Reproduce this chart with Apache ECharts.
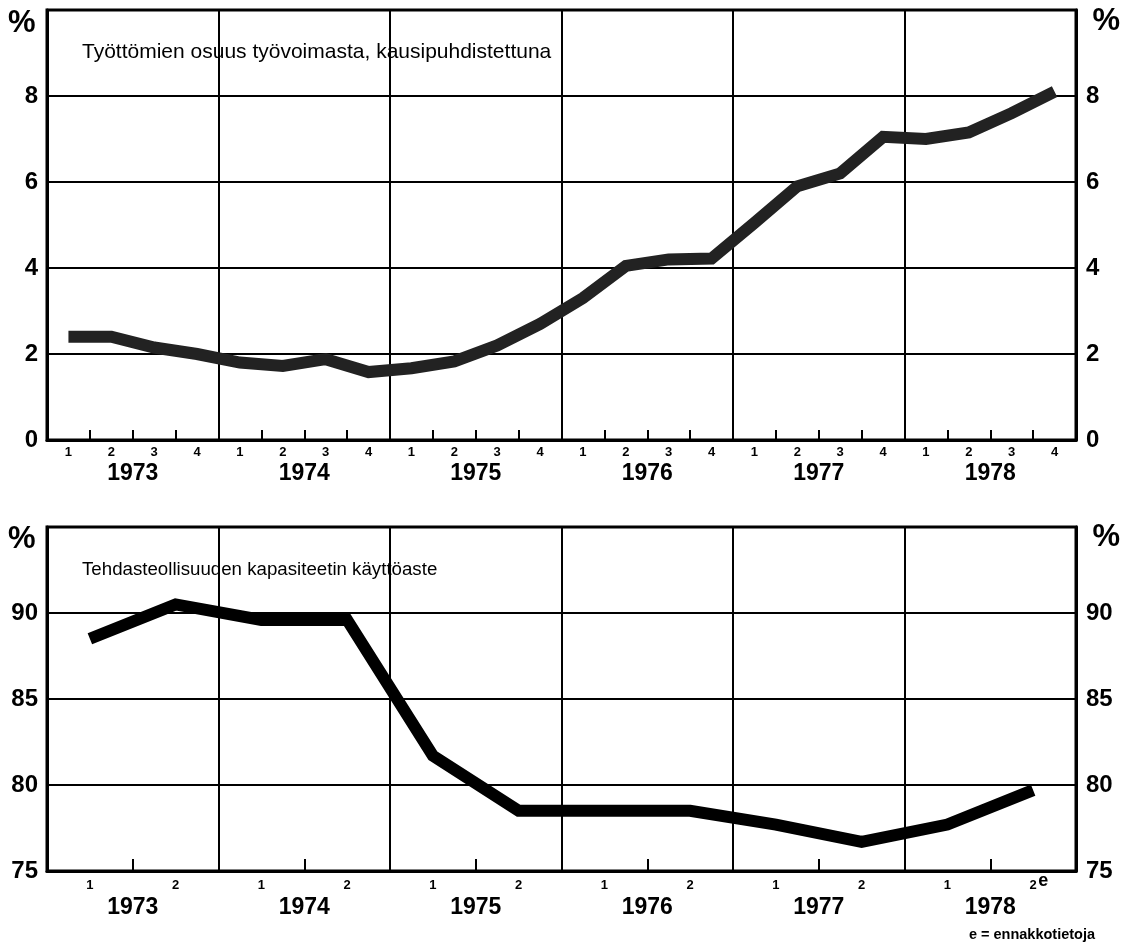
<!DOCTYPE html>
<html>
<head>
<meta charset="utf-8">
<script src="https://cdn.jsdelivr.net/npm/echarts@6/dist/echarts.min.js"></script>
<style>
  html, body { margin: 0; padding: 0; background: #fff; }
  #chart { width: 1123px; height: 948px; }
</style>
</head>
<body>
<div id="chart"></div>
<script>
// data
const years = ['1973', '1974', '1975', '1976', '1977', '1978']
const quarters = ['1', '2', '3', '4']
const halves = ['1', '2']
// unemployment rate, seasonally adjusted, quarterly 1973Q1..1978Q4
const unemployment = [
  2.4, 2.4, 2.15, 2.0,
  1.8, 1.72, 1.88, 1.58,
  1.67, 1.83, 2.2, 2.7,
  3.3, 4.05, 4.2, 4.22,
  5.05, 5.9, 6.2, 7.05,
  7.0, 7.15, 7.6, 8.1
]
// capacity utilisation, half-yearly 1973H1..1978H2
const utilisation = [
  88.5, 90.5,
  89.6, 89.6,
  81.7, 78.5,
  78.5, 78.5,
  77.7, 76.7,
  77.7, 79.7
]
const topTicks = [0, 10, 2]
const bottomTicks = [75, 95, 5]

const qLabels = years.flatMap(() => quarters)
const hLabels = years.flatMap(() => halves)
const font = 'Liberation Sans, Arial, sans-serif'

const mChart = echarts.init(document.getElementById('chart'))

const numAxis = (grid, pos, ticks, split) => ({
  type: 'value',
  gridIndex: grid,
  position: pos,
  min: ticks[0],
  max: ticks[1],
  interval: ticks[2],
  axisLine: { show: true, lineStyle: { color: '#000', width: 3 } },
  axisTick: { show: false },
  splitLine: { show: split, lineStyle: { color: '#000', width: 2 } },
  axisLabel: {
    color: '#000',
    fontFamily: font,
    fontWeight: 'bold',
    fontSize: 24,
    margin: pos === 'left' ? 9 : 10,
    formatter: v => (v === ticks[1] ? '' : String(v))
  }
})

const tickAxis = (grid, labels, len, margin) => ({
  type: 'category',
  gridIndex: grid,
  position: 'bottom',
  data: labels,
  boundaryGap: true,
  axisLine: { show: true, lineStyle: { color: '#000', width: 3 } },
  axisTick: { show: true, inside: true, length: len, interval: 0, lineStyle: { color: '#000', width: 2 } },
  splitLine: { show: false },
  axisLabel: {
    interval: 0,
    color: '#000',
    fontFamily: font,
    fontWeight: 'bold',
    fontSize: 13,
    margin: margin
  }
})

const yearAxis = (grid, margin) => ({
  type: 'category',
  gridIndex: grid,
  position: 'bottom',
  data: years,
  boundaryGap: true,
  axisLine: { show: false },
  axisTick: { show: false },
  splitLine: { show: true, interval: 0, lineStyle: { color: '#000', width: 2 } },
  axisLabel: {
    interval: 0,
    color: '#000',
    fontFamily: font,
    fontWeight: 'bold',
    fontSize: 23,
    margin: margin
  }
})

const pct = (x, y, align) => ({
  type: 'text',
  left: align === 'left' ? x : undefined,
  right: align === 'right' ? x : undefined,
  top: y,
  style: { text: '%', font: 'bold 31px ' + font, fill: '#000' }
})

const titleStyle = size => ({ fontFamily: font, fontSize: size, fontWeight: 'normal', color: '#000' })

const options = {
  animation: false,
  backgroundColor: '#fff',
  grid: [
    { left: 47, right: 47, top: 10, height: 430, show: true, borderColor: '#000', borderWidth: 3, backgroundColor: 'transparent' },
    { left: 47, right: 47, top: 527, height: 344, show: true, borderColor: '#000', borderWidth: 3, backgroundColor: 'transparent' }
  ],
  title: [
    { text: 'Työttömien osuus työvoimasta, kausipuhdistettuna', left: 77, top: 37, textStyle: titleStyle(21) },
    { text: 'Tehdasteollisuuden kapasiteetin käyttöaste', left: 77, top: 555, textStyle: titleStyle(18.7) }
  ],
  graphic: [
    pct(8, 8, 'left'),
    pct(3, 6, 'right'),
    pct(8, 524, 'left'),
    pct(3, 522, 'right'),
    {
      type: 'text',
      right: 28,
      top: 927,
      style: { text: 'e = ennakkotietoja', font: 'bold 14.5px ' + font, fill: '#000' }
    }
  ],
  xAxis: [
    tickAxis(0, qLabels, 10, 6),
    yearAxis(0, 22),
    tickAxis(1, hLabels, 12, 8),
    yearAxis(1, 25)
  ],
  yAxis: [
    numAxis(0, 'left', topTicks, true),
    numAxis(0, 'right', topTicks, false),
    numAxis(1, 'left', bottomTicks, true),
    numAxis(1, 'right', bottomTicks, false)
  ],
  series: [
    {
      type: 'line',
      xAxisIndex: 0,
      yAxisIndex: 0,
      data: unemployment,
      symbol: 'none',
      z: 5,
      lineStyle: { color: '#222', width: 12, join: 'miter', cap: 'butt' }
    },
    {
      type: 'line',
      xAxisIndex: 2,
      yAxisIndex: 2,
      data: utilisation,
      symbol: 'none',
      z: 5,
      lineStyle: { color: '#000', width: 12, join: 'miter', cap: 'butt' }
    }
  ]
}
mChart.setOption(options)

// superscript "e" (preliminary) after the last half-year label
const lastX = mChart.convertToPixel({ xAxisIndex: 2 }, hLabels.length - 1)
const baseY = mChart.convertToPixel({ yAxisIndex: 2 }, bottomTicks[0])
options.graphic.push({
  type: 'text',
  left: lastX + 5,
  top: baseY + 1,
  style: { text: 'e', font: 'bold 18px ' + font, fill: '#000' }
})
mChart.setOption({ graphic: options.graphic })
</script>
</body>
</html>
